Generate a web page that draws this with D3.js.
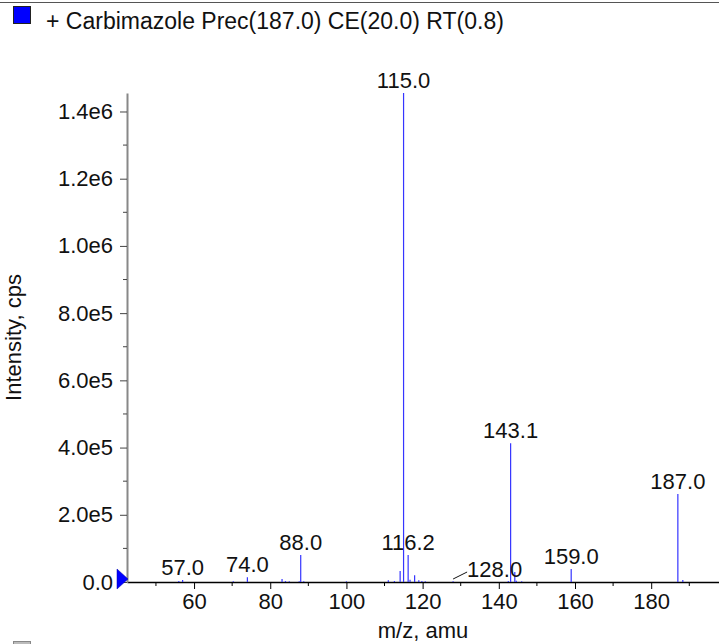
<!DOCTYPE html>
<html>
<head>
<meta charset="utf-8">
<script src="https://cdn.jsdelivr.net/npm/d3@7"></script>
<style>
  html, body { margin: 0; padding: 0; background: #fff; }
  svg { display: block; font-family: "Liberation Sans", Arial, Helvetica, sans-serif; }
</style>
</head>
<body>
<script>
// DATA
// =============================================================================

const title = "+ Carbimazole Prec(187.0) CE(20.0) RT(0.8)";

// peak m/z values and intensities (cps)
const peakMz = [56.0, 57.0, 70.3, 74.0, 83.1, 84.0, 85.0, 87.6, 88.0, 88.8,
                100.0, 111.0, 112.6, 114.1, 115.0, 116.2, 116.7, 117.9, 119.0, 119.8,
                120.7, 128.0, 142.5, 143.1, 144.2, 144.6, 146.0, 159.0, 187.0, 188.3];
const peakIntensity = [3e3, 6e3, 2e3, 1.4e4, 9e3, 3e3, 2e3, 2e3, 8.0e4, 2e3,
                       2e3, 5e3, 3e3, 3.3e4, 1.455e6, 8.0e4, 7e3, 2.0e4, 5e3, 3e3,
                       2e3, 2e3, 3e3, 4.13e5, 3.0e4, 4e3, 2e3, 3.9e4, 2.62e5, 6e3];

// labelled peaks
const labelMz = [57.0, 74.0, 88.0, 115.0, 116.2, 128.0, 143.1, 159.0, 187.0];

const xTicks = [60, 80, 100, 120, 140, 160, 180];
const xMinorTicks = [50, 70, 90, 110, 130, 150, 170, 190];
const yTicks = [0, 2e5, 4e5, 6e5, 8e5, 1e6, 1.2e6, 1.4e6];
const yMinorTicks = [1e5, 3e5, 5e5, 7e5, 9e5, 1.1e6, 1.3e6];

// CONFIG
// =============================================================================

const width = 719;
const height = 644;
const plot = { left: 127, right: 719, top: 93, bottom: 582 };
const peakColor = "#3535ff";

// SCALES
// =============================================================================

const xScale = d3.scaleLinear()
    .domain([42.4, 197.8])
    .range([plot.left, plot.right]);

const yScale = d3.scaleLinear()
    .domain([0, 1.455e6])
    .range([plot.bottom, plot.top]);

function fmtY(v) {
    if (v === 0) return "0.0";
    const e = Math.floor(Math.log10(v));
    return (v / Math.pow(10, e)).toFixed(1) + "e" + e;
}

// SVG
// =============================================================================

const svg = d3.select("body")
    .append("svg")
    .attr("width", width)
    .attr("height", height);

// header line, legend box and title
svg.append("line")
    .attr("x1", 0).attr("x2", width)
    .attr("y1", 2.5).attr("y2", 2.5)
    .attr("stroke", "#555").attr("stroke-width", 1);

svg.append("rect")
    .attr("x", 13.5).attr("y", 6.5)
    .attr("width", 17).attr("height", 17)
    .attr("fill", "#0000ff").attr("stroke", "#222").attr("stroke-width", 1);

svg.append("text")
    .attr("x", 46).attr("y", 29)
    .attr("font-size", 23)
    .attr("fill", "#111")
    .text(title);

// gray legend box peeking in at the bottom
svg.append("rect")
    .attr("x", 13.5).attr("y", 641.5)
    .attr("width", 17).attr("height", 17)
    .attr("fill", "#bbb").attr("stroke", "#888");

// AXES
// =============================================================================

const xAxis = svg.append("g")
    .attr("transform", `translate(0,${plot.bottom})`)
    .call(d3.axisBottom(xScale).tickValues(xTicks).tickSize(7).tickSizeOuter(0).tickPadding(4)
        .tickFormat(d3.format("d")));
xAxis.select(".domain").attr("stroke", "#000").attr("stroke-width", 1.5);
xAxis.selectAll(".tick line").attr("stroke", "#000");
xAxis.selectAll("text").attr("font-size", 22).attr("font-family", null).attr("fill", "#111");

svg.append("g")
    .selectAll("line")
    .data(xMinorTicks)
    .join("line")
    .attr("x1", d => xScale(d)).attr("x2", d => xScale(d))
    .attr("y1", plot.bottom).attr("y2", plot.bottom + 4)
    .attr("stroke", "#000");

const yAxis = svg.append("g")
    .attr("transform", `translate(${plot.left},0)`)
    .call(d3.axisLeft(yScale).tickValues(yTicks).tickSize(7).tickSizeOuter(0).tickPadding(7)
        .tickFormat(fmtY));
yAxis.select(".domain").attr("stroke", "#888").attr("stroke-width", 2);
yAxis.selectAll(".tick line").attr("stroke", "#444");
yAxis.selectAll("text").attr("font-size", 22).attr("font-family", null).attr("fill", "#111");

svg.append("g")
    .selectAll("line")
    .data(yMinorTicks)
    .join("line")
    .attr("x1", plot.left - 4).attr("x2", plot.left)
    .attr("y1", d => yScale(d)).attr("y2", d => yScale(d))
    .attr("stroke", "#444");

// axis titles
svg.append("text")
    .attr("x", (plot.left + plot.right) / 2)
    .attr("y", 638)
    .attr("text-anchor", "middle")
    .attr("font-size", 22)
    .attr("fill", "#111")
    .text("m/z, amu");

svg.append("text")
    .attr("transform", `translate(21,${(plot.top + plot.bottom) / 2}) rotate(-90)`)
    .attr("text-anchor", "middle")
    .attr("font-size", 22)
    .attr("fill", "#111")
    .text("Intensity, cps");

// zero marker triangle on y axis
svg.append("path")
    .attr("d", `M${plot.left - 10},${yScale(0) - 13} L${plot.left + 1},${yScale(0) - 3} L${plot.left - 10},${yScale(0) + 7} Z`)
    .attr("fill", "#0000ff")
    .attr("stroke", "#0000aa")
    .attr("stroke-width", 0.5);

// PEAKS
// =============================================================================

svg.append("g")
    .selectAll("line")
    .data(peakMz)
    .join("line")
    .attr("x1", d => xScale(d)).attr("x2", d => xScale(d))
    .attr("y1", yScale(0))
    .attr("y2", (d, i) => yScale(peakIntensity[i]))
    .attr("stroke", peakColor)
    .attr("stroke-width", 1.2);

// LABELS
// =============================================================================

const labelled = labelMz.map(m => {
    const i = peakMz.indexOf(m);
    return { mz: m, y: peakIntensity[i] };
});

const labels = svg.append("g");

labels.selectAll("text")
    .data(labelled)
    .join("text")
    .attr("x", d => d.mz === 128.0 ? xScale(d.mz) + 14 : xScale(d.mz))
    .attr("y", d => d.mz === 128.0 ? yScale(0) - 5 : yScale(d.y) - 5)
    .attr("text-anchor", d => d.mz === 128.0 ? "start" : "middle")
    .attr("font-size", 22)
    .attr("fill", "#111")
    .text(d => d.mz.toFixed(1));

// leader line for the off-set 128.0 label
const lead = labelled.find(d => d.mz === 128.0);
labels.append("line")
    .attr("x1", xScale(lead.mz)).attr("y1", yScale(0) - 3)
    .attr("x2", xScale(lead.mz) + 14).attr("y2", yScale(0) - 10)
    .attr("stroke", "#111").attr("stroke-width", 1);
</script>
</body>
</html>
